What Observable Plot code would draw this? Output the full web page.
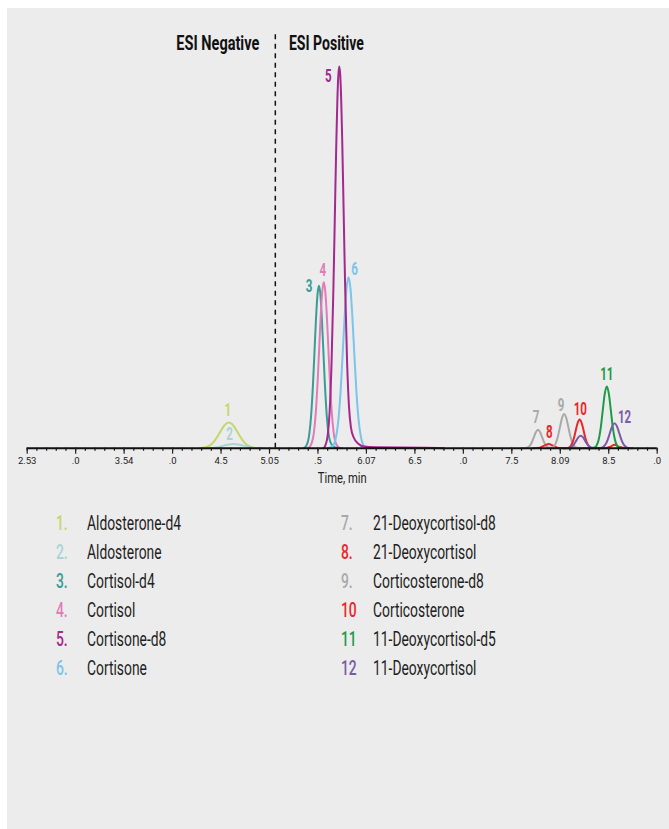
<!DOCTYPE html>
<html>
<head>
<meta charset="utf-8">
<script src="https://cdn.jsdelivr.net/npm/d3@7"></script>
<script src="https://cdn.jsdelivr.net/npm/@observablehq/plot@0.6"></script>
<style>
  html, body { margin: 0; padding: 0; background: #ffffff; }
  #panel { position: absolute; left: 7px; top: 8px; width: 662px; height: 821px; background: #ececec; overflow: hidden;
    font-family: Roboto, "Liberation Sans", sans-serif; }
  #chart svg { display: block; }
  #legend { position: absolute; left: 49px; top: 500.7px; display: grid;
    grid-template-columns: 31.3px 253.4px 32.6px auto; grid-auto-rows: 29.15px; align-items: center;
    font-size: 21px; color: #1e1e1e; line-height: 1; }
  #legend span { display: inline-block; transform-origin: 0 50%; white-space: nowrap; }
  #legend .num span { font-weight: 500; }
</style>
</head>
<body>
<div id="panel">
  <div id="chart"></div>
  <div id="legend"></div>
</div>
<script>
// ---- data (time in min, relative intensity) ----
const trace1 = [[4.28,0],[4.33,0.17],[4.38,0.61],[4.42,1.4],[4.46,2.67],[4.49,3.85],[4.52,5.0],[4.55,5.84],[4.58,6.15],[4.61,5.84],[4.64,5.0],[4.67,3.85],[4.70,2.67],[4.74,1.4],[4.78,0.61],[4.83,0.17],[4.88,0]];
const trace2 = [[4.30,0],[4.38,0.04],[4.43,0.135],[4.48,0.32],[4.53,0.61],[4.58,0.88],[4.63,1.0],[4.68,0.88],[4.73,0.61],[4.78,0.32],[4.83,0.135],[4.88,0.04],[4.96,0]];
const trace3 = [[5.35,0],[5.38,0.6],[5.41,3.3],[5.43,8.0],[5.45,16.0],[5.465,23.6],[5.48,31.1],[5.495,36.8],[5.51,38.9],[5.525,36.8],[5.54,31.1],[5.555,23.6],[5.57,16.0],[5.59,8.0],[5.61,3.3],[5.64,0.9],[5.68,0.2],[5.75,0]];
const trace4 = [[5.40,0],[5.43,0.9],[5.46,4.1],[5.48,9.3],[5.50,17.6],[5.513,24.1],[5.53,32.4],[5.545,37.7],[5.56,39.7],[5.575,37.7],[5.59,32.4],[5.607,24.1],[5.62,17.6],[5.64,9.3],[5.66,4.1],[5.69,0.9],[5.73,0]];
const trace5 = [[5.56,0],[5.58,0.9],[5.60,3.0],[5.62,8.6],[5.64,20.2],[5.66,39.0],[5.67,50.6],[5.68,62.6],[5.69,73.9],[5.70,83.2],[5.71,89.3],[5.72,91.4],[5.73,89.3],[5.74,83.2],[5.75,73.9],[5.76,62.6],[5.77,50.6],[5.78,39.0],[5.80,21.0],[5.82,10.0],[5.84,5.0],[5.87,2.5],[5.92,1.0],[5.97,0.4],[6.1,0.2],[6.6,0.1],[6.8,0]];
const trace6 = [[5.60,0],[5.655,0.6],[5.685,2.5],[5.715,7.8],[5.735,14.2],[5.755,22.6],[5.775,31.4],[5.795,38.3],[5.815,40.9],[5.835,38.3],[5.855,31.4],[5.875,22.6],[5.895,14.2],[5.915,7.8],[5.945,2.5],[5.975,0.6],[6.04,0]];
const trace7 = [[7.60,0],[7.644,0.05],[7.665,0.19],[7.686,0.59],[7.707,1.43],[7.728,2.67],[7.749,3.88],[7.77,4.4],[7.791,3.88],[7.812,2.67],[7.833,1.43],[7.854,0.59],[7.875,0.19],[7.896,0.05],[7.94,0]];
const trace8 = [[7.72,0],[7.79,0.135],[7.835,0.61],[7.88,1.0],[7.925,0.61],[7.97,0.135],[8.04,0],[8.45,0],[8.51,0.3],[8.56,0.8],[8.61,0.3],[8.67,0]];
const trace9 = [[7.86,0],[7.908,0.09],[7.93,0.36],[7.952,1.11],[7.974,2.67],[7.996,4.98],[8.018,7.23],[8.04,8.2],[8.062,7.23],[8.084,4.98],[8.106,2.67],[8.128,1.11],[8.15,0.36],[8.172,0.09],[8.22,0]];
const trace10 = [[8.03,0],[8.077,0.08],[8.098,0.30],[8.118,0.93],[8.139,2.24],[8.159,4.19],[8.18,6.09],[8.20,6.9],[8.22,6.09],[8.241,4.19],[8.261,2.24],[8.282,0.93],[8.303,0.30],[8.323,0.08],[8.37,0]];
const trace11 = [[8.31,0],[8.354,0.16],[8.375,0.65],[8.396,2.0],[8.417,4.81],[8.438,8.98],[8.459,13.05],[8.48,14.8],[8.501,13.05],[8.522,8.98],[8.543,4.81],[8.564,2.0],[8.585,0.65],[8.606,0.16],[8.65,0]];
const trace12 = [[8.04,0],[8.075,0.03],[8.098,0.13],[8.12,0.405],[8.143,0.975],[8.165,1.82],[8.188,2.65],[8.21,3.0],[8.233,2.65],[8.255,1.82],[8.278,0.975],[8.30,0.405],[8.323,0.13],[8.345,0.03],[8.37,0.02],[8.416,0.07],[8.44,0.26],[8.464,0.81],[8.488,1.95],[8.512,3.64],[8.536,5.29],[8.56,6.0],[8.584,5.29],[8.608,3.64],[8.632,1.95],[8.656,0.81],[8.68,0.26],[8.704,0.07],[8.75,0]];

const compounds = ["Aldosterone-d4","Aldosterone","Cortisol-d4","Cortisol","Cortisone-d8","Cortisone",
  "21-Deoxycortisol-d8","21-Deoxycortisol","Corticosterone-d8","Corticosterone","11-Deoxycortisol-d5","11-Deoxycortisol"];
const peakNumbers = ["1","2","3","4","5","6","7","8","9","10","11","12"];
const legendNumbers = ["1.","2.","3.","4.","5.","6.","7.","8.","9.","10","11","12"];
const colors = ["#c3d76b","#a9d4d6","#3b9c97","#e07cb7","#a3288f","#7cc4ea",
  "#a9a9a9","#e8262b","#a9a9a9","#e8262b","#1f9a46","#7a5ba7"];
const tickValues = [2.5,3.0,3.5,4.0,4.5,5.0,5.5,6.0,6.5,7.0,7.5,8.0,8.5,9.0];
const tickLabels = ["2.53",".0","3.54",".0","4.5","5.05",".5","6.07","6.5",".0","7.5","8.09","8.5",".0"];
const minorTicks = d3.range(25, 91).map(d => d / 10);
const esiSwitch = 5.06;
const modeLabels = ["ESI Negative", "ESI Positive"];
const axisTitle = "Time, min";

// ---- layout (offsets of the peak numbers from each apex, px; header text widths, px) ----
const labelDx = [-1,-4,-10,-1,-11,6,-2,0.7,-3,0.6,0,10];
const labelDy = [-12,-10,1,-12,10,-8,-12,-11.6,-9,-10.4,-12,-6];
const headerWidths = {"ESI Negative": 83, "ESI Positive": 75, "Time, min": 49};

const traces = [trace1,trace2,trace3,trace4,trace5,trace6,trace7,trace8,trace9,trace10,trace11,trace12];
const drawOrder = [0,1,2,3,5,4,6,7,8,9,10,11];
const font = `Roboto, "Liberation Sans", sans-serif`;

// condensed look: horizontal squeeze factor measured from the font
const ctx = document.createElement("canvas").getContext("2d");
ctx.font = `400 21px ${font}`;
const squeezeK = 94 / ctx.measureText("Aldosterone-d4").width;

const marks = [];
marks.push(Plot.ruleX([esiSwitch], {y1: 0, y2: 100, stroke: "#111", strokeWidth: 1.5, strokeDasharray: "5,4.5"}));
marks.push(Plot.text([modeLabels[0]], {x: esiSwitch, y: 97.05, text: d => d, dx: -16, textAnchor: "end", fontSize: 21, fill: "#111", fontWeight: "bold"}));
marks.push(Plot.text([modeLabels[1]], {x: esiSwitch, y: 97.05, text: d => d, dx: 13.6, textAnchor: "start", fontSize: 21, fill: "#111", fontWeight: "bold"}));
for (const i of drawOrder) {
  const pts = traces[i].map(([t, v]) => ({t, v}));
  marks.push(Plot.line(pts, {x: "t", y: "v", stroke: colors[i], strokeWidth: 2, curve: "monotone-x"}));
}
for (let i = 0; i < traces.length; i++) {
  const apex = traces[i].reduce((a, b) => (b[1] > a[1] ? b : a));
  marks.push(Plot.text([{t: apex[0], v: apex[1]}], {x: "t", y: "v", text: () => peakNumbers[i], dx: labelDx[i], dy: labelDy[i],
    fill: colors[i], fontSize: 17.5, fontWeight: "bold"}));
}
marks.push(Plot.ruleY([0], {stroke: "#111", strokeWidth: 2}));
marks.push(Plot.axisX({ticks: minorTicks, tickSize: 3, tickFormat: () => "", stroke: "#111", strokeWidth: 1.2, label: null}));
marks.push(Plot.axisX({ticks: tickValues, tickSize: 6, tickPadding: 3, strokeWidth: 1.2,
  tickFormat: d => tickLabels[tickValues.indexOf(d)], fontSize: 9.5, fill: "#222", label: null}));
marks.push(Plot.text([axisTitle], {frameAnchor: "bottom", text: d => d, dy: 34.5, fontSize: 15, fill: "#1e1e1e"}));

const chart = Plot.plot({
  width: 662, height: 487,
  marginLeft: 19.7, marginRight: 12.3, marginTop: 22, marginBottom: 47.3,
  x: {domain: [2.5, 9.0]},
  y: {domain: [0, 100], axis: null},
  style: {background: "transparent", fontFamily: font, fontSize: "14px", color: "#222", overflow: "visible"},
  marks
});
document.getElementById("chart").appendChild(chart);

// squeeze the large SVG texts horizontally
chart.querySelectorAll('g[aria-label="text"] text').forEach(el => {
  const L = el.getComputedTextLength();
  const w = headerWidths[el.textContent];
  el.setAttribute("textLength", (w !== undefined ? w : L * squeezeK).toFixed(2));
  el.setAttribute("lengthAdjust", "spacingAndGlyphs");
});

// legend
const legend = document.getElementById("legend");
for (let r = 0; r < 6; r++) {
  for (const i of [r, r + 6]) {
    const n = document.createElement("div");
    n.className = "num";
    const ns = document.createElement("span");
    ns.textContent = legendNumbers[i]; ns.style.color = colors[i];
    ns.style.transform = `scaleX(${squeezeK})`;
    n.appendChild(ns);
    const t = document.createElement("div");
    const ts = document.createElement("span");
    ts.textContent = compounds[i];
    ts.style.transform = `scaleX(${squeezeK})`;
    t.appendChild(ts);
    legend.appendChild(n); legend.appendChild(t);
  }
}
</script>
</body>
</html>
